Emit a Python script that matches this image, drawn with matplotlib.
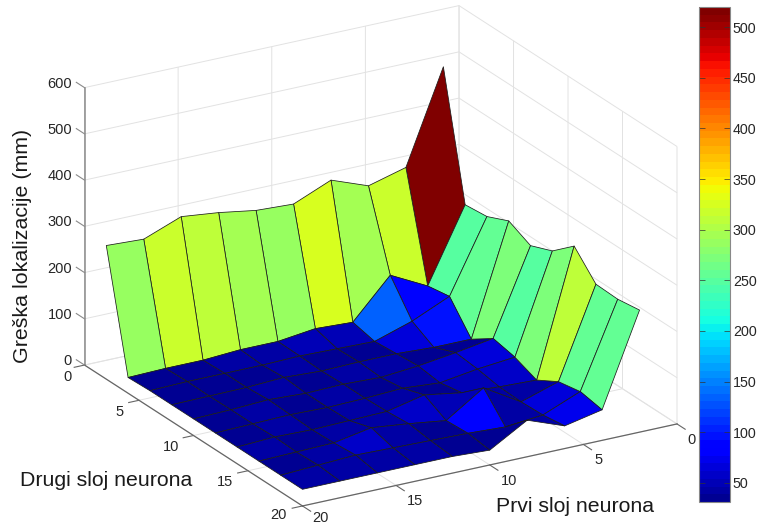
import numpy as np
import matplotlib
matplotlib.use('Agg')
import matplotlib.pyplot as plt
from matplotlib import colors as mcolors, cm
from mpl_toolkits.mplot3d import proj3d

plt.rcParams['font.family'] = ['Liberation Sans', 'DejaVu Sans']

first_layer = [2, 4, 6, 8, 10, 12, 14, 16, 18, 20]
second_layer = [2, 4, 6, 8, 10, 12, 14, 16, 18, 20]
err_y02 = [516, 316, 294, 324, 290, 294, 307, 316, 285, 289]
err_y04 = [248, 90, 131, 47, 51, 41, 41, 36, 36, 34]
err_y06 = [253, 98, 62, 36, 38, 40, 38, 38, 38, 36]
err_y08 = [274, 36, 36, 40, 40, 38, 42, 38, 37, 36]
err_y10 = [251, 68, 55, 44, 37, 40, 38, 42, 38, 36]
err_y12 = [270, 58, 50, 38, 44, 40, 38, 40, 38, 36]
err_y14 = [311, 39, 42, 47, 60, 42, 40, 38, 40, 36]
err_y16 = [259, 66, 40, 88, 35, 46, 55, 40, 38, 36]
err_y18 = [257, 75, 42, 34, 38, 40, 42, 44, 40, 36]
err_y20 = [264, 66, 49, 79, 32, 36, 36, 36, 36, 36]
xy_ticks = [0, 5, 10, 15, 20]
z_ticks = [0, 100, 200, 300, 400, 500, 600]
cbar_ticks = [50, 100, 150, 200, 250, 300, 350, 400, 450, 500]
c_min, c_max = 31, 520

W, H = 759, 526
fig = plt.figure(figsize=(W / 100, H / 100), dpi=100, facecolor='white')
ax = fig.add_axes([0, 0, 1, 1], projection='3d', facecolor='none')
ax.set_proj_type('ortho')
ax.view_init(elev=22.1, azim=59.8)
ax.set_box_aspect((1, 1, 0.691))
ax.set_xlim(0, 20)
ax.set_ylim(0, 20)
ax.set_zlim(0, 600)
ax.set_xticks(xy_ticks)
ax.set_yticks(xy_ticks)
ax.set_zticks(z_ticks)
ax.set_xticklabels([])
ax.set_yticklabels([])
ax.set_zticklabels([])
ax.computed_zorder = False

grid_c = '#e2e2e2'
for a in (ax.xaxis, ax.yaxis, ax.zaxis):
    a.set_pane_color((1, 1, 1, 0))
    a.pane.set_edgecolor('none')
    a.line.set_color((1, 1, 1, 0))
    a._axinfo['grid']['color'] = grid_c
    a._axinfo['grid']['linewidth'] = 0.7
    a._axinfo['tick']['inward_factor'] = 0
    a._axinfo['tick']['outward_factor'] = 0
    a.set_tick_params(length=0, color=(1, 1, 1, 0))

Z = np.array([err_y02, err_y04, err_y06, err_y08, err_y10,
              err_y12, err_y14, err_y16, err_y18, err_y20], dtype=float)
X, Y = np.meshgrid(first_layer, second_layer)
norm = mcolors.Normalize(c_min, c_max)
# 64-level jet as MATLAB builds it: starts at a lighter navy than matplotlib's
cmap = mcolors.ListedColormap(matplotlib.colormaps['jet'](np.linspace(1 / 64, 1, 64)))
ax.plot_surface(X, Y, Z, facecolors=cmap(norm(Z)), rstride=1, cstride=1,
                shade=False, edgecolor='#1c1c1c', linewidth=0.55, zorder=3)

# box edges and ticks
axc = '#666666'
zc = '#8a8a8a'
ax.plot([20, 20], [0, 0], [0, 600], color=zc, lw=1.1, zorder=2)
ax.plot([20, 20], [0, 20], [0, 0], color=axc, lw=0.9, zorder=2)
ax.plot([20, 0], [20, 20], [0, 0], color=axc, lw=0.9, zorder=2)
for t in xy_ticks:
    ax.plot([t, t], [20, 20.75], [0, 0], color=axc, lw=0.8, zorder=2)
    ax.plot([20, 20.55], [t, t], [0, 0], color=axc, lw=0.8, zorder=2)
for t in z_ticks:
    ax.plot([20, 20], [0, -0.75], [t, t], color=zc, lw=0.8, zorder=2)

# place the box so that floor corners fall on their reference pixels
def to_px(x, y, z):
    fig.canvas.draw()
    u, v, _ = proj3d.proj_transform(x, y, z, ax.get_proj())
    return ax.transData.transform((u, v))

target_l = np.array([84.5, H - 365.0])
target_r = np.array([677.0, H - 424.0])
pos = [0.0, 0.0, 1.0, 1.0]
for _ in range(3):
    ax.set_position(pos)
    pl = to_px(20, 0, 0)
    pr = to_px(0, 20, 0)
    s = (target_r[0] - target_l[0]) / (pr[0] - pl[0])
    cx = pos[0] + pos[2] / 2
    cy = pos[1] + pos[3] / 2
    mid = (pl + pr) / 2
    tgt = (target_l + target_r) / 2
    cx += (tgt[0] - mid[0] * 1.0) / W + (mid[0] / W - cx) * (1 - s)
    cy += (tgt[1] - mid[1] * 1.0) / H + (mid[1] / H - cy) * (1 - s)
    pos = [cx - pos[2] * s / 2, cy - pos[3] * s / 2, pos[2] * s, pos[3] * s]
ax.set_position(pos)
fig.canvas.draw()

def label3d(txt, x, y, z, dx, dy, **kw):
    u, v, _ = proj3d.proj_transform(x, y, z, ax.get_proj())
    ax.annotate(txt, xy=(u, v), xycoords='data', xytext=(dx * 0.72, -dy * 0.72),
                textcoords='offset points', annotation_clip=False,
                ha=kw.pop('ha', 'center'), va='center', fontsize=10.5, color='#262626')

y_off = {0: (-17.5, 12), 5: (-19, 12), 10: (-22, 11.5), 15: (-22.5, 11), 20: (-24, 9)}
x_off = {0: (15, 16), 5: (15, 15.5), 10: (19.5, 16), 15: (19, 15.5), 20: (18, 12)}
for t in xy_ticks:
    label3d(str(t), 20, t, 0, *y_off[t])
    label3d(str(t), t, 20, 0, *x_off[t])
for t in z_ticks:
    label3d(str(t), 20, 0, t, -12.5, -4, ha='right')

fig.text(23 / W, 1 - 246 / H, 'Greška lokalizacije (mm)', rotation=90, ha='center', va='center',
         fontsize=15.4, color='#1a1a1a')
fig.text(106.5 / W, 1 - 480 / H, 'Drugi sloj neurona', ha='center', va='center',
         fontsize=15.3, color='#1a1a1a')
fig.text(575 / W, 1 - 507 / H, 'Prvi sloj neurona', ha='center', va='center',
         fontsize=15.3, color='#1a1a1a')

# colorbar
cax = fig.add_axes([699 / W, (H - 502) / H, 31 / W, 495 / H])
sm = cm.ScalarMappable(norm=norm, cmap=cmap)
cb = fig.colorbar(sm, cax=cax)
cb.set_ticks(cbar_ticks)
cb.ax.tick_params(direction='in', left=True, right=True, length=4, width=0.5,
                  labelsize=10.3, labelcolor='#262626', color='#333333', pad=2)
cb.outline.set_edgecolor('#888888')
cb.outline.set_linewidth(0.8)

fig.savefig('out.png', dpi=100)
